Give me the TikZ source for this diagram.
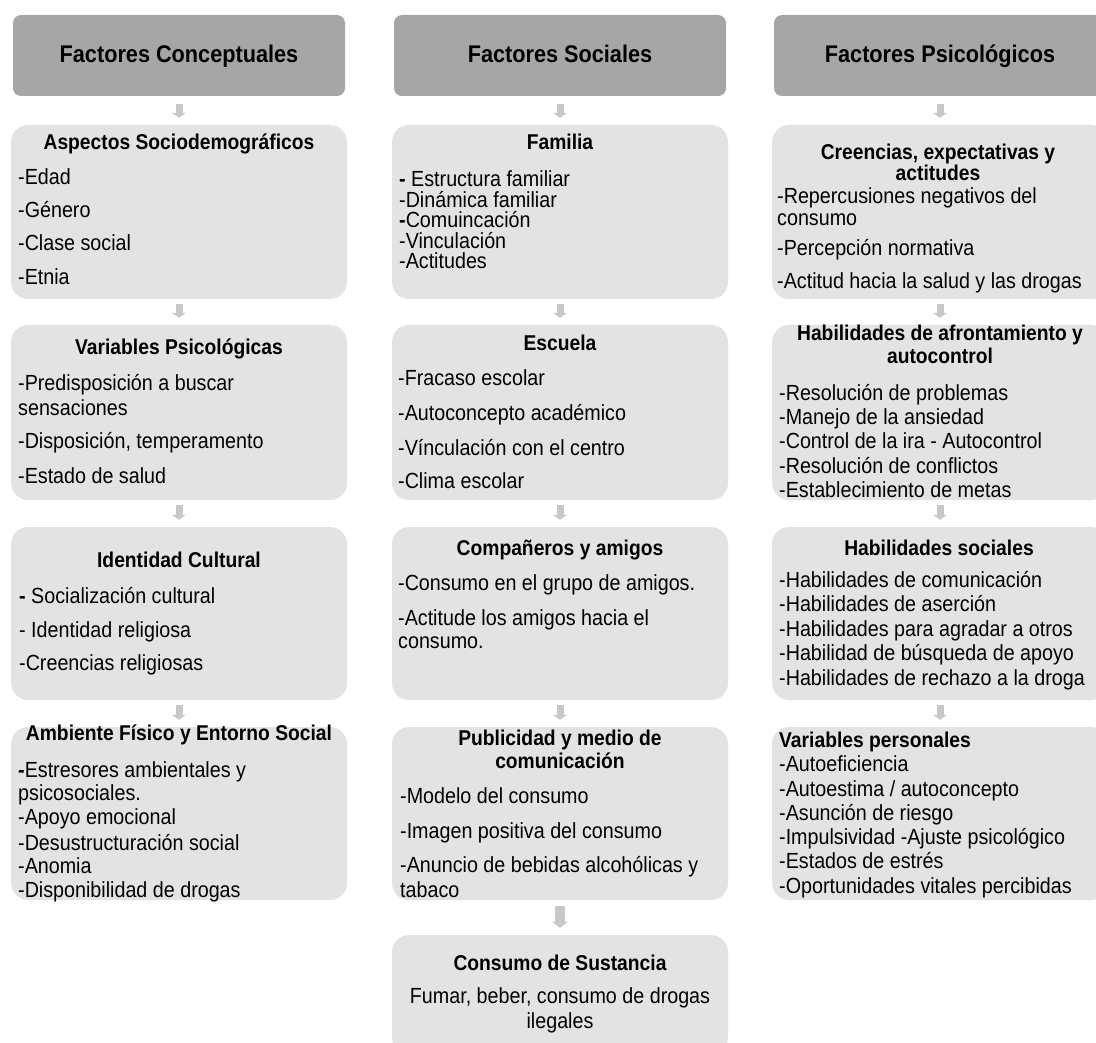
\documentclass[tikz,border=0pt]{standalone}
\usepackage{fontspec}
\setmainfont{Liberation Sans}[FakeStretch=0.9]
\usetikzlibrary{arrows.meta}
\definecolor{hdrgray}{HTML}{A6A6A6}
\definecolor{cellgray}{HTML}{E3E3E3}
\definecolor{arrowgray}{HTML}{C8C8C8}
\tikzset{
  hdr/.style={fill=hdrgray, rounded corners=8pt, minimum width=332pt, minimum height=81pt, inner sep=0pt},
  cell/.style={fill=cellgray, rounded corners=17pt, minimum width=336pt, inner sep=0pt},
  htxt/.style={font=\fontsize{24.1}{28}\selectfont\bfseries, anchor=base, inner sep=0pt},
  ttl/.style={font=\fontsize{21.4}{25}\selectfont\bfseries, anchor=base, inner sep=0pt},
  ttlw/.style={font=\fontsize{21.4}{25}\selectfont\bfseries, anchor=base west, inner sep=0pt},
  itm/.style={font=\fontsize{21.9}{26}\selectfont, anchor=base west, inner sep=0pt},
  itmc/.style={font=\fontsize{21.9}{26}\selectfont, anchor=base, inner sep=0pt},
  flow/.style={draw=arrowgray, line width=7pt, -{Triangle[width=14pt,length=5pt]}, shorten <=5pt, shorten >=7pt},
  bigflow/.style={draw=arrowgray, line width=10pt, -{Triangle[width=16pt,length=6pt]}, shorten <=6pt, shorten >=7pt}
}
\begin{document}
\begin{tikzpicture}[x=1pt, y=-1pt]
\useasboundingbox (0,0) rectangle (1096,1043);
\clip (0,0) rectangle (1096,1043);

% ---------- headers ----------
\node[hdr] (h1) at (179,55.5) {};
\node[hdr] (h2) at (560,55.5) {};
\node[hdr] (h3) at (940,55.5) {};
\node[htxt] (h1t) at (179,63) {Factores Conceptuales};
\node[htxt] (h2t) at (560,63) {Factores Sociales};
\node[htxt] (h3t) at (940,63) {Factores Psicológicos};

% ---------- boxes ----------
\node[cell, minimum height=174pt] (c11) at (179,212) {};
\node[cell, minimum height=175pt] (c12) at (179,412.5) {};
\node[cell, minimum height=173pt] (c13) at (179,613.5) {};
\node[cell, minimum height=173pt] (c14) at (179,813.5) {};

\node[cell, minimum height=174pt] (c21) at (560,212) {};
\node[cell, minimum height=175pt] (c22) at (560,412.5) {};
\node[cell, minimum height=173pt] (c23) at (560,613.5) {};
\node[cell, minimum height=173pt] (c24) at (560,813.5) {};
\node[cell, minimum height=120pt] (c25) at (560,995) {};

\node[cell, minimum height=174pt] (c31) at (940,212) {};
\node[cell, minimum height=175pt] (c32) at (940,412.5) {};
\node[cell, minimum height=173pt] (c33) at (940,613.5) {};
\node[cell, minimum height=173pt] (c34) at (940,813.5) {};

% ---------- connectors ----------
\draw[flow, shorten <=8pt] (h1) -- (c11);
\draw[flow] (c11) -- (c12);
\draw[flow] (c12) -- (c13);
\draw[flow] (c13) -- (c14);
\draw[flow, shorten <=8pt] (h2) -- (c21);
\draw[flow] (c21) -- (c22);
\draw[flow] (c22) -- (c23);
\draw[flow] (c23) -- (c24);
\draw[bigflow] (c24) -- (c25);
\draw[flow, shorten <=8pt] (h3) -- (c31);
\draw[flow] (c31) -- (c32);
\draw[flow] (c32) -- (c33);
\draw[flow] (c33) -- (c34);

% ---------- column 1 ----------
\node[ttl] (t11) at (179,150) {Aspectos Sociodemográficos};
\node[itm] (t11a) at (18,185) {-Edad};
\node[itm] (t11b) at (18,218) {-Género};
\node[itm] (t11c) at (18,251) {-Clase social};
\node[itm] (t11d) at (18,285) {-Etnia};

\node[ttl] (t12) at (179,355) {Variables Psicológicas};
\node[itm] (t12a) at (18,390) {-Predisposición a buscar};
\node[itm] (t12b) at (18,415) {sensaciones};
\node[itm] (t12c) at (18,448) {-Disposición, temperamento};
\node[itm] (t12d) at (18,483) {-Estado de salud};

\node[ttl] (t13) at (179,567) {Identidad Cultural};
\node[itm] (t13a) at (19,603) {\textbf{-} Socialización cultural};
\node[itm] (t13b) at (19,637) {- Identidad religiosa};
\node[itm] (t13c) at (19,670) {-Creencias religiosas};

\node[ttl] (t14) at (179,740) {Ambiente Físico y Entorno Social};
\node[itm] (t14a) at (18,777) {\textbf{-}Estresores ambientales y};
\node[itm] (t14b) at (18,800) {psicosociales.};
\node[itm] (t14c) at (18,824) {-Apoyo emocional};
\node[itm] (t14d) at (18,850) {-Desustructuración social};
\node[itm] (t14e) at (18,873) {-Anomia};
\node[itm] (t14f) at (18,897) {-Disponibilidad de drogas};

% ---------- column 2 ----------
\node[ttl] (t21) at (560,150) {Familia};
\node[itm] (t21a) at (399,187) {\textbf{-} Estructura familiar};
\node[itm] (t21b) at (399,208) {-Dinámica familiar};
\node[itm] (t21c) at (399,228) {\textbf{-}Comuincación};
\node[itm] (t21d) at (399,249) {-Vinculación};
\node[itm] (t21e) at (399,269) {-Actitudes};

\node[ttl] (t22) at (560,350) {Escuela};
\node[itm] (t22a) at (398,385) {-Fracaso escolar};
\node[itm] (t22b) at (398,420) {-Autoconcepto académico};
\node[itm] (t22c) at (398,455) {-Vínculación con el centro};
\node[itm] (t22d) at (398,488) {-Clima escolar};

\node[ttl] (t23) at (560,555) {Compañeros y amigos};
\node[itm] (t23a) at (398,590) {-Consumo en el grupo de amigos.};
\node[itm] (t23b) at (398,625) {-Actitude los amigos hacia el};
\node[itm] (t23c) at (398,648) {consumo.};

\node[ttl] (t24a) at (560,745) {Publicidad y medio de};
\node[ttl] (t24b) at (560,768) {comunicación};
\node[itm] (t24c) at (400,803) {-Modelo del consumo};
\node[itm] (t24d) at (400,838) {-Imagen positiva del consumo};
\node[itm] (t24e) at (400,872) {-Anuncio de bebidas alcohólicas y};
\node[itm] (t24f) at (400,897) {tabaco};

\node[ttl] (t25) at (560,970) {Consumo de Sustancia};
\node[itmc] (t25a) at (560,1003) {Fumar, beber, consumo de drogas};
\node[itmc] (t25b) at (560,1028) {ilegales};

% ---------- column 3 ----------
\node[ttl] (t31a) at (938,160) {Creencias, expectativas y};
\node[ttl] (t31b) at (938,181) {actitudes};
\node[itm] (t31c) at (777,204) {-Repercusiones negativos del};
\node[itm] (t31d) at (777,226) {consumo};
\node[itm] (t31e) at (777,256) {-Percepción normativa};
\node[itm] (t31f) at (777,289) {-Actitud hacia la salud y las drogas};

\node[ttl] (t32a) at (940,341) {Habilidades de afrontamiento y};
\node[ttl] (t32b) at (940,363) {autocontrol};
\node[itm] (t32c) at (779,400) {-Resolución de problemas};
\node[itm] (t32d) at (779,424) {-Manejo de la ansiedad};
\node[itm] (t32e) at (779,448) {-Control de la ira - Autocontrol};
\node[itm] (t32f) at (779,473) {-Resolución de conflictos};
\node[itm] (t32g) at (779,497) {-Establecimiento de metas};

\node[ttl] (t33) at (939,555) {Habilidades sociales};
\node[itm] (t33a) at (779,587) {-Habilidades de comunicación};
\node[itm] (t33b) at (779,611) {-Habilidades de aserción};
\node[itm] (t33c) at (779,636) {-Habilidades para agradar a otros};
\node[itm] (t33d) at (779,660) {-Habilidad de búsqueda de apoyo};
\node[itm] (t33e) at (779,685) {-Habilidades de rechazo a la droga};

\node[ttlw] (t34) at (779,747) {Variables personales};
\node[itm] (t34a) at (779,771) {-Autoeficiencia};
\node[itm] (t34b) at (779,796) {-Autoestima / autoconcepto};
\node[itm] (t34c) at (779,820) {-Asunción de riesgo};
\node[itm] (t34d) at (779,844) {-Impulsividad -Ajuste psicológico};
\node[itm] (t34e) at (779,868) {-Estados de estrés};
\node[itm] (t34f) at (779,893) {-Oportunidades vitales percibidas};
\end{tikzpicture}
\end{document}
